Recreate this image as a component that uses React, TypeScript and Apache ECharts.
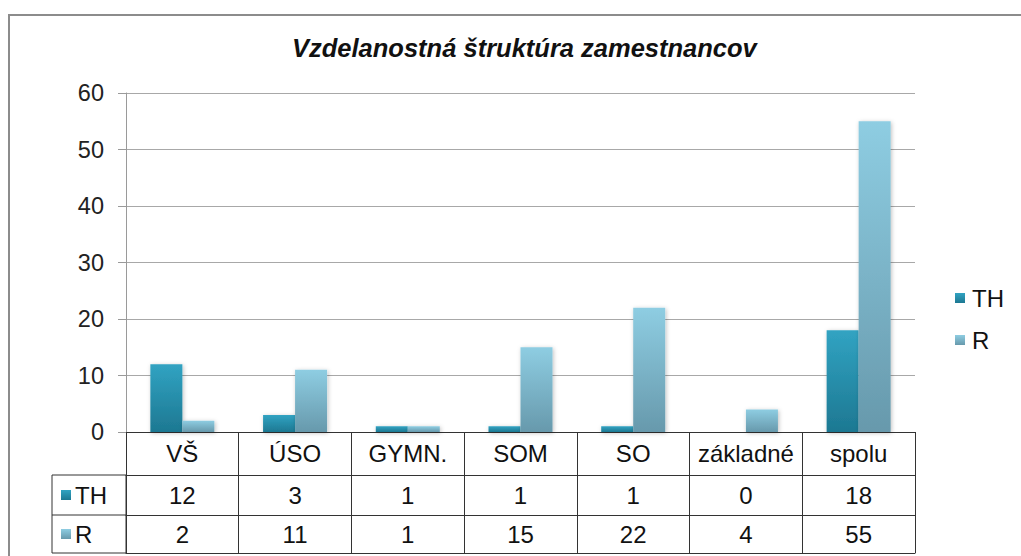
import React, { useEffect, useRef } from "react";
import * as echarts from "echarts";

const TITLE = "Vzdelanostná štruktúra zamestnancov";
const CATEGORIES = ["VŠ", "ÚSO", "GYMN.", "SOM", "SO", "základné", "spolu"];
const SERIES_NAMES = ["TH", "R"];
const TH_VALUES = [12, 3, 1, 1, 1, 0, 18];
const R_VALUES = [2, 11, 1, 15, 22, 4, 55];
const Y_MIN = 0;
const Y_MAX = 60;
const Y_STEP = 10;

const FONT = "'Liberation Sans', Arial, sans-serif";
const TH_GRAD = ["#31A3C2", "#1D7892"];
const R_GRAD = ["#8ECDE2", "#6799AC"];

const grad = (c: string[]) =>
  new echarts.graphic.LinearGradient(0, 0, 0, 1, [
    { offset: 0, color: c[0] },
    { offset: 1, color: c[1] },
  ]);

export default function App() {
  const ref = useRef<HTMLDivElement>(null);
  useEffect(() => {
    if (!ref.current) return;
    const chart = echarts.init(ref.current, null, { renderer: "svg" });
    const tableLine = { color: "#333", width: 1 };
    const rowAxis = (values: (string | number)[], offset: number, tickLen: number, margin: number, showLabel = true, showTick = true) => ({
      type: "category",
      gridIndex: 0,
      position: "bottom",
      offset,
      data: values.map(String),
      boundaryGap: true,
      axisLine: { show: true, lineStyle: tableLine },
      axisTick: { show: showTick, length: tickLen, interval: 0, lineStyle: tableLine },
      axisLabel: {
        show: showLabel,
        interval: 0,
        fontSize: 24,
        color: "#111",
        fontFamily: FONT,
        margin,
        verticalAlign: "middle",
      },
      splitLine: { show: false },
    });
    chart.setOption({
      animation: false,
      textStyle: { fontFamily: FONT },
      title: {
        text: TITLE,
        left: 292,
        top: 35,
        padding: 0,
        textStyle: { fontSize: 25.5, fontStyle: "italic", fontWeight: "bold", color: "#111", fontFamily: FONT },
      },
      legend: {
        orient: "vertical",
        left: 955,
        top: 286,
        padding: 0,
        itemWidth: 10,
        itemHeight: 10,
        itemGap: 18,
        icon: "rect",
        data: SERIES_NAMES,
        textStyle: { fontSize: 24, color: "#111", fontFamily: FONT, padding: [0, 0, 0, 2] },
      },
      grid: { left: 126, right: 106, top: 93, bottom: 124, containLabel: false },
      xAxis: [
        rowAxis(CATEGORIES, 0, 43, 21.5),
        rowAxis(TH_VALUES, 43, 40, 20),
        rowAxis(R_VALUES, 83, 38, 19),
        rowAxis(CATEGORIES, 121, 0, 0, false, false),
      ],
      yAxis: {
        type: "value",
        min: Y_MIN,
        max: Y_MAX,
        interval: Y_STEP,
        axisLine: { show: true, lineStyle: { color: "#9a9a9a", width: 1 } },
        axisTick: { show: true, length: 8, lineStyle: { color: "#9a9a9a" } },
        axisLabel: { fontSize: 23.5, color: "#222", margin: 22, fontFamily: FONT },
        splitLine: { show: true, lineStyle: { color: "#a8a8a8", width: 1 } },
      },
      series: [
        {
          name: SERIES_NAMES[0],
          type: "bar",
          xAxisIndex: 0,
          barWidth: 32,
          barGap: "0%",
          data: TH_VALUES,
          itemStyle: {
            color: grad(TH_GRAD),
            shadowBlur: 4,
            shadowColor: "rgba(0,0,0,0.25)",
            shadowOffsetX: 1,
            shadowOffsetY: 1,
          },
        },
        {
          name: SERIES_NAMES[1],
          type: "bar",
          xAxisIndex: 0,
          barWidth: 32,
          barGap: "0%",
          data: R_VALUES,
          itemStyle: {
            color: grad(R_GRAD),
            shadowBlur: 4,
            shadowColor: "rgba(0,0,0,0.25)",
            shadowOffsetX: 1,
            shadowOffsetY: 1,
          },
        },
      ],
      graphic: [
        {
          type: "rect",
          z: -10,
          shape: { x: 9, y: 15, width: 1040, height: 600 },
          style: { fill: "none", stroke: "#8c8c8c", lineWidth: 2 },
        },
        {
          type: "rect",
          shape: { x: 52, y: 475, width: 74, height: 78 },
          style: { fill: "none", stroke: "#333", lineWidth: 1 },
        },
        {
          type: "line",
          shape: { x1: 52, y1: 515, x2: 126, y2: 515 },
          style: { stroke: "#333", lineWidth: 1 },
        },
        {
          type: "rect",
          shape: { x: 61, y: 490, width: 10, height: 10 },
          style: { fill: grad(TH_GRAD) },
        },
        {
          type: "text",
          x: 75,
          y: 495,
          style: { text: SERIES_NAMES[0], fontSize: 24, fill: "#111", font: `24px ${FONT}`, verticalAlign: "middle" },
        },
        {
          type: "rect",
          shape: { x: 61, y: 529, width: 10, height: 10 },
          style: { fill: grad(R_GRAD) },
        },
        {
          type: "text",
          x: 75,
          y: 534,
          style: { text: SERIES_NAMES[1], fontSize: 24, fill: "#111", font: `24px ${FONT}`, verticalAlign: "middle" },
        },
      ],
    });
    return () => chart.dispose();
  }, []);
  return (
    <div
      ref={ref}
      style={{ position: "fixed", left: 0, top: 0, width: 1021, height: 556, background: "#fff" }}
    />
  );
}
